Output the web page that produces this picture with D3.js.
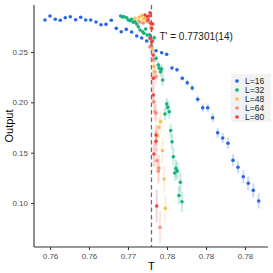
<!DOCTYPE html>
<html>
<head>
<meta charset="utf-8">
<script src="https://cdn.jsdelivr.net/npm/d3@7"></script>
<style>
body{margin:0;background:#fff;}
text{font-family:"Liberation Sans",Arial,sans-serif;}
</style>
</head>
<body>
<svg id="chart" width="273" height="273"></svg>
<script>
// data
var sizes=["L=16","L=32","L=48","L=64","L=80"];
var colors=["#1f5fe6","#0fae78","#f8bd55","#f98a72","#f23b3b"];
var tickValues=[0.76,0.765,0.77,0.775,0.78,0.785];
var tickLabels=["0.76","0.76","0.77","0.78","0.78","0.78"];
var yTicks=[0.10,0.15,0.20,0.25];
var Tcrit=0.77301;

var T16=[0.75936,0.76000,0.76068,0.76132,0.76196,0.76260,0.76329,0.76394,0.76458,0.76522,0.76590,0.76654,0.76718,0.76786,0.76850,0.76914,0.76978,0.77047,0.77112,0.77176,0.77240,0.77301,0.77359,0.77432,0.77496,0.77564,0.77628,0.77696,0.77760,0.77824,0.77894,0.77958,0.78022,0.78086,0.78150,0.78214,0.78282,0.78346,0.78410,0.78478,0.78542,0.78606,0.78676];
var O16=[0.2818,0.2858,0.2825,0.2815,0.2841,0.2851,0.2821,0.2845,0.2818,0.2818,0.2798,0.2771,0.2775,0.2815,0.2735,0.2702,0.2725,0.2699,0.2659,0.2639,0.2609,0.2560,0.2513,0.2493,0.2477,0.2341,0.2324,0.2239,0.2195,0.2142,0.2030,0.1947,0.1947,0.1847,0.1698,0.1646,0.1593,0.1424,0.1355,0.1261,0.1196,0.1126,0.1020];
var E16=[0.0008,0.0008,0.0008,0.0008,0.0008,0.0008,0.0008,0.0008,0.0008,0.0008,0.0008,0.0008,0.0008,0.0008,0.0008,0.0008,0.0008,0.0008,0.0008,0.0008,0.0008,0.0008,0.001,0.0012,0.0015,0.002,0.002,0.0025,0.003,0.003,0.0035,0.004,0.004,0.0045,0.005,0.005,0.0055,0.006,0.006,0.0065,0.007,0.007,0.0075];

var T32=[0.76906,0.76927,0.76949,0.76983,0.77004,0.77026,0.77047,0.77068,0.77090,0.77112,0.77132,0.77154,0.77188,0.77205,0.77227,0.77247,0.77282,0.77312,0.77337,0.77359,0.77388,0.77401,0.77419,0.77432,0.77445,0.77474,0.77496,0.77509,0.77529,0.77547,0.77564,0.77581,0.77599,0.77615,0.77632,0.77654,0.77671,0.77692];
var O32=[0.2858,0.2848,0.2851,0.2841,0.2818,0.2811,0.2825,0.2795,0.2801,0.2778,0.2751,0.2719,0.2702,0.2686,0.2728,0.2669,0.2669,0.2609,0.2642,0.2437,0.2371,0.2338,0.2304,0.2331,0.2222,0.1884,0.1983,0.1951,0.1907,0.1720,0.1609,0.1460,0.1298,0.1343,0.1318,0.1075,0.1206,0.1013];
var E32=[0.001,0.001,0.001,0.001,0.001,0.001,0.001,0.001,0.001,0.001,0.0012,0.0012,0.0015,0.0015,0.0015,0.002,0.002,0.003,0.003,0.004,0.004,0.005,0.005,0.005,0.006,0.006,0.006,0.007,0.007,0.007,0.008,0.008,0.008,0.009,0.009,0.009,0.01,0.01];

var T48=[0.77090,0.77132,0.77145,0.77176,0.77196,0.77218,0.77256,0.77291,0.77312,0.77333,0.77346,0.77376,0.77397,0.77419,0.77442,0.77465,0.77478];
var O48=[0.2835,0.2813,0.2845,0.2863,0.2828,0.2835,0.2798,0.2748,0.2540,0.2354,0.2304,0.1666,0.1752,0.1808,0.1520,0.1238,0.0947];
var E48=[0.0012,0.0012,0.0012,0.0015,0.0015,0.0015,0.002,0.003,0.005,0.006,0.007,0.01,0.01,0.01,0.012,0.013,0.014];

var T64=[0.77154,0.77196,0.77240,0.77282,0.77324,0.77359,0.77333,0.77346,0.77359,0.77368,0.77397,0.77388,0.77410];
var O64=[0.2798,0.2788,0.2808,0.2553,0.2421,0.2255,0.2006,0.1907,0.1891,0.1420,0.1348,0.1318,0.0759];
var E64=[0.0015,0.0015,0.002,0.004,0.006,0.007,0.008,0.009,0.009,0.012,0.013,0.013,0.016];

var T80=[0.77218,0.77247,0.77273,0.77260,0.77282,0.77291,0.77317,0.77304,0.77282,0.77304,0.77324,0.77324,0.77324,0.77359,0.77359,0.77333,0.77368];
var O80=[0.2868,0.2851,0.2858,0.2818,0.2890,0.2785,0.2778,0.2735,0.2636,0.2602,0.2470,0.2239,0.2073,0.1676,0.1614,0.1487,0.0970];
var E80=[0.0015,0.0015,0.0015,0.002,0.0015,0.002,0.002,0.003,0.004,0.005,0.006,0.008,0.009,0.01,0.01,0.012,0.016];

var allT=[T16,T32,T48,T64,T80];
var allO=[O16,O32,O48,O64,O80];
var allE=[E16,E32,E48,E64,E80];

var svg=d3.select("#chart");
var padL=34,padR=268,padT=5,padB=247;

var x=d3.scaleLinear().domain([0.75795,0.78795]).range([padL,padR]);
var y=d3.scaleLinear().domain([0.0563,0.2967]).range([padB,padT]);

// dashed line at T'
svg.append("line")
	.attr("x1",x(Tcrit)).attr("x2",x(Tcrit))
	.attr("y1",padT).attr("y2",padB)
	.attr("stroke","#6e6e6e").attr("stroke-width",1.3)
	.attr("stroke-dasharray","4.5,3");

// points + error bars, L=16 first so bigger L on top
for (let s=0;s<sizes.length;s++){
	var pts=allT[s].map(function(t,i){return {t:t,o:allO[s][i],e:allE[s][i]};});
	var g=svg.append("g");
	g.selectAll("line.err").data(pts).enter().append("line")
		.attr("class","err")
		.attr("x1",d=>x(d.t)).attr("x2",d=>x(d.t))
		.attr("y1",d=>y(d.o-d.e)).attr("y2",d=>y(d.o+d.e))
		.attr("stroke",colors[s]).attr("stroke-opacity",0.22).attr("stroke-width",2.2);
	g.selectAll("circle").data(pts).enter().append("circle")
		.attr("cx",d=>x(d.t)).attr("cy",d=>y(d.o))
		.attr("r",1.8)
		.attr("fill",colors[s]).attr("fill-opacity",0.95);
}

// axes
var xAxis=d3.axisBottom(x).tickValues(tickValues).tickSize(3).tickFormat((d,i)=>tickLabels[i]);
var yAxis=d3.axisLeft(y).tickValues(yTicks).tickSize(3).tickFormat(d3.format(".2f"));

var gx=svg.append("g").attr("transform","translate(0,"+padB+")").call(xAxis);
var gy=svg.append("g").attr("transform","translate("+padL+",0)").call(yAxis);
[gx,gy].forEach(function(g){
	g.select(".domain").attr("stroke","#333").attr("stroke-width",1.1);
	g.selectAll(".tick line").attr("stroke","#333");
	g.selectAll(".tick text").attr("fill","#4d4d4d").style("font-size","8px");
});
gx.select(".domain").attr("d","M"+padL+",0H"+padR);
gy.select(".domain").attr("d","M0,"+padT+"V"+padB);

// axis titles
svg.append("text").attr("x",x(Tcrit)).attr("y",270)
	.attr("text-anchor","middle").style("font-size","11px").text("T");
svg.append("text").attr("transform","translate(13,"+((padT+padB)/2)+") rotate(-90)")
	.attr("text-anchor","middle").style("font-size","11px").text("Output");

// annotation
svg.append("text").attr("x",x(Tcrit)+8).attr("y",40)
	.style("font-size","10px").attr("fill","#1a1a1a").text("T' = 0.77301(14)");

// legend
var lg=svg.append("g").attr("transform","translate(231,74)");
lg.append("rect").attr("width",40).attr("height",48).attr("fill","#f2f2f2");
lg.selectAll("circle").data(sizes).enter().append("circle")
	.attr("cx",6).attr("cy",(d,i)=>7+i*9).attr("r",1.8)
	.attr("fill",(d,i)=>colors[i]);
lg.selectAll("text").data(sizes).enter().append("text")
	.attr("x",14).attr("y",(d,i)=>7+i*9).attr("dy","0.35em")
	.style("font-size","8.5px").attr("fill","#1a1a1a").text(d=>d);
</script>
</body>
</html>
